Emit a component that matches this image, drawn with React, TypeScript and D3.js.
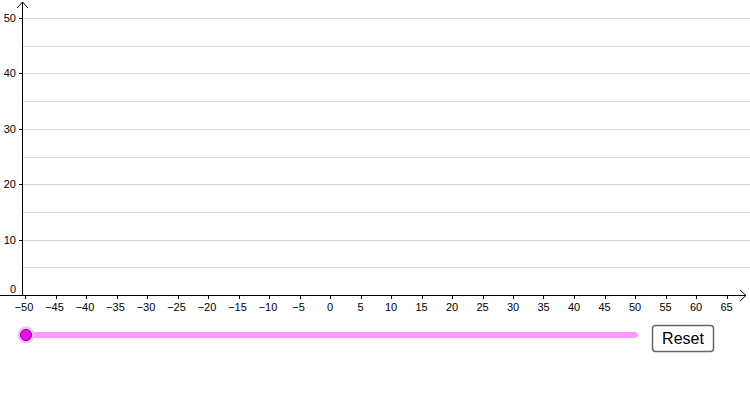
import React, { useEffect, useRef } from 'react';
import * as d3 from 'd3';

// axis ranges
const xTicks: number[] = [-50, -45, -40, -35, -30, -25, -20, -15, -10, -5, 0, 5, 10, 15, 20, 25, 30, 35, 40, 45, 50, 55, 60, 65];
const yTicks: number[] = [0, 10, 20, 30, 40, 50];
const yGrid: number[] = [5, 10, 15, 20, 25, 30, 35, 40, 45, 50];
const sliderRange: [number, number] = [-50, 50];
const sliderValue: number = -50;

const width = 750;
const height = 400;
const font = '"Liberation Sans", Arial, sans-serif';

const App: React.FC = () => {
  const svgRef = useRef<SVGSVGElement | null>(null);

  useEffect(() => {
    if (!svgRef.current) return;
    const svg = d3.select(svgRef.current);
    svg.selectAll('*').remove();

    const x = d3.scaleLinear().domain([-50, 65]).range([25, 726.5]);
    const y = d3.scaleLinear().domain([0, 50]).range([295, 18]);
    const x0 = 22;
    const y0 = y(0);

    // horizontal grid
    svg.append('g')
      .selectAll('line')
      .data(yGrid)
      .enter()
      .append('line')
      .attr('x1', x0)
      .attr('x2', width)
      .attr('y1', d => Math.round(y(d)) + 0.5)
      .attr('y2', d => Math.round(y(d)) + 0.5)
      .attr('stroke', d => (d % 10 === 0 ? '#d4d4d4' : '#dedede'))
      .attr('stroke-width', 1.2);

    // x axis
    const gx = svg.append('g');
    gx.append('line')
      .attr('x1', 0).attr('x2', 746)
      .attr('y1', y0 + 0.5).attr('y2', y0 + 0.5)
      .attr('stroke', '#000');
    gx.append('path')
      .attr('d', `M740,${y0 - 5}L746,${y0 + 0.5}L740,${y0 + 6}`)
      .attr('fill', 'none').attr('stroke', '#000');
    gx.selectAll('line.tick')
      .data(xTicks)
      .enter()
      .append('line')
      .attr('class', 'tick')
      .attr('x1', d => Math.round(x(d)) + 0.5)
      .attr('x2', d => Math.round(x(d)) + 0.5)
      .attr('y1', y0)
      .attr('y2', y0 + 4)
      .attr('stroke', '#000');
    gx.selectAll('text')
      .data(xTicks)
      .enter()
      .append('text')
      .attr('x', d => x(d) + (d < 0 ? -1 : 0))
      .attr('y', y0 + 16)
      .attr('text-anchor', 'middle')
      .style('font-family', font)
      .style('font-size', '11px')
      .text(d => (d < 0 ? `\u2212${-d}` : `${d}`));

    // y axis
    const gy = svg.append('g');
    gy.append('line')
      .attr('x1', x0 + 0.5).attr('x2', x0 + 0.5)
      .attr('y1', 2).attr('y2', y0)
      .attr('stroke', '#000');
    gy.append('path')
      .attr('d', `M${x0 - 5},8L${x0 + 0.5},2L${x0 + 6},8`)
      .attr('fill', 'none').attr('stroke', '#000');
    gy.selectAll('line.tick')
      .data(yTicks.filter(d => d > 0))
      .enter()
      .append('line')
      .attr('class', 'tick')
      .attr('x1', x0 - 3)
      .attr('x2', x0)
      .attr('y1', d => Math.round(y(d)) + 0.5)
      .attr('y2', d => Math.round(y(d)) + 0.5)
      .attr('stroke', '#000');
    gy.selectAll('text')
      .data(yTicks)
      .enter()
      .append('text')
      .attr('x', 16)
      .attr('y', d => (d === 0 ? y(d) - 2 : y(d) + 4))
      .attr('text-anchor', 'end')
      .style('font-family', font)
      .style('font-size', '11px')
      .text(d => `${d}`);

    // slider
    const sy = 335;
    svg.append('line')
      .attr('x1', x(sliderRange[0])).attr('x2', x(sliderRange[1]))
      .attr('y1', sy).attr('y2', sy)
      .attr('stroke', '#ff99ff')
      .attr('stroke-width', 6)
      .attr('stroke-linecap', 'round');
    svg.append('circle')
      .attr('cx', x(sliderValue) + 1).attr('cy', sy)
      .attr('r', 8.5)
      .attr('fill', '#ffb3ff');
    svg.append('circle')
      .attr('cx', x(sliderValue) + 1).attr('cy', sy)
      .attr('r', 5.5)
      .attr('fill', '#ff00ff')
      .attr('stroke', '#333')
      .attr('stroke-width', 1);

    // reset button
    const btn = svg.append('g');
    btn.append('rect')
      .attr('x', 652.5).attr('y', 325.5)
      .attr('width', 61).attr('height', 26)
      .attr('rx', 3)
      .attr('fill', '#fff')
      .attr('stroke', '#666')
      .attr('stroke-width', 1.5);
    btn.append('text')
      .attr('x', 683).attr('y', 344)
      .attr('text-anchor', 'middle')
      .style('font-family', font)
      .style('font-size', '16px')
      .text('Reset');
  }, []);

  return (
    <div style={{ position: 'absolute', left: 0, top: 0, width, height, background: '#fff' }}>
      <svg ref={svgRef} width={width} height={height} />
    </div>
  );
};

export default App;
